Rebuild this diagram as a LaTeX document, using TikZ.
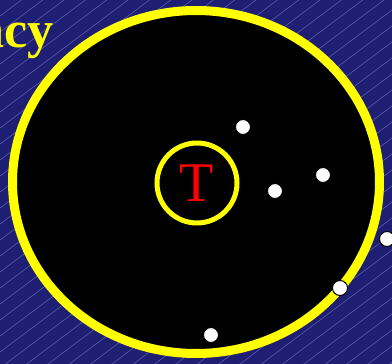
\documentclass[tikz,border=0pt]{standalone}
\usepackage{fontspec}
\setmainfont{Liberation Serif}
\usetikzlibrary{shapes.geometric}
\definecolor{slideBlue}{RGB}{30,30,115}
\definecolor{slideHatch}{RGB}{100,100,180}
\definecolor{slideYellow}{RGB}{255,255,0}

\begin{document}
\begin{tikzpicture}[x=1pt,y=-1pt,
  hatch/.style={slideHatch,line width=0.5pt},
  readzone/.style={
    ellipse,
    draw=slideYellow,
    fill=black,
    line width=9pt,
    minimum width=367pt,
    minimum height=343pt
  },
  target/.style={
    circle,
    draw=slideYellow,
    line width=5pt,
    minimum size=80pt,
    inner sep=0pt,
    text=red,
    font=\fontsize{56}{56}\selectfont
  },
  point/.style={circle,draw=black,fill=white,line width=1pt,minimum size=15pt,inner sep=0pt},
  title/.style={text=slideYellow,inner sep=0pt,font=\bfseries\fontsize{52}{52}\selectfont}
]
  \useasboundingbox (0,0) rectangle (392,364);
  \fill[slideBlue] (0,0) rectangle (392,364);
  \begin{scope}
    \clip (0,0) rectangle (392,364);
    \foreach \y in {0,16,...,680}
      \draw[hatch] (0,\y) -- (392,\y-294);

    \node[title,anchor=base east] (heading) at (54,48) {acy};
    \node[readzone] (zone) at (196,182) {};
    \node[target] (tag) at (197,183) {T};

    % readers around the tag
    \node[point] (p1) at (243,127) {};
    \node[point] (p2) at (275,191) {};
    \node[point] (p3) at (323,175) {};
    \node[point] (p4) at (387,239) {};
    \node[point] (p5) at (340,288) {};
    \node[point] (p6) at (211,335) {};
  \end{scope}
\end{tikzpicture}
\end{document}
